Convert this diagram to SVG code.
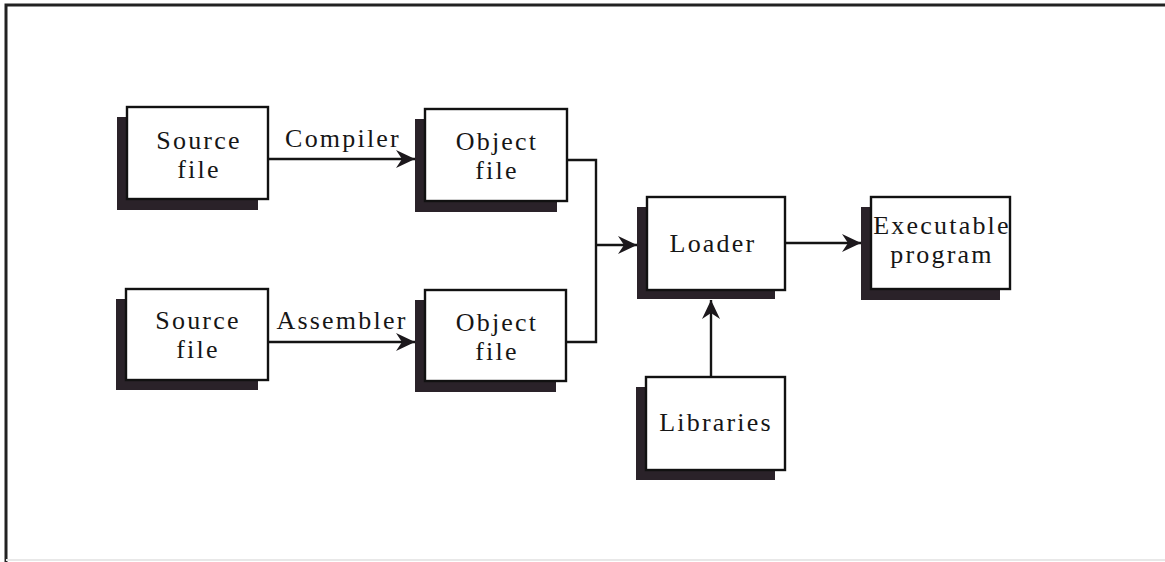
<svg xmlns="http://www.w3.org/2000/svg" width="1165" height="562" viewBox="0 0 1165 562">
  <style>
    .shadow { fill: #2a2229; }
    .box { fill: #ffffff; stroke: #111111; stroke-width: 2.4; }
    .label { font-family: "Liberation Serif", "Times New Roman", serif; font-size: 26px; fill: #161616; text-anchor: middle; letter-spacing: 2.2px; }
    .wire { fill: none; stroke: #141414; stroke-width: 2.4; }
    .frame { fill: none; stroke: #222222; stroke-width: 3; }
  </style>
  <defs>
    <marker id="arrow" markerUnits="userSpaceOnUse" viewBox="-19 -10 20 20" refX="0" refY="0" markerWidth="20" markerHeight="20" orient="auto">
      <path d="M0,0 L-19,-9 L-13,0 L-19,9 Z" fill="#1c181c"/>
    </marker>
  </defs>

  <rect width="1165" height="562" fill="#ffffff"/>

  <!-- page frame -->
  <g id="frame">
    <path class="frame" d="M6,562 V5 H1165"/>
    <line x1="6" y1="560" x2="1165" y2="560" stroke="#e8e8e8" stroke-width="2"/>
  </g>

  <!-- connectors -->
  <g id="connectors">
    <line class="wire" x1="268" y1="159" x2="415" y2="159" marker-end="url(#arrow)"/>
    <line class="wire" x1="268" y1="342" x2="415" y2="342" marker-end="url(#arrow)"/>
    <path class="wire" d="M567,160 H596 V342 H566"/>
    <line class="wire" x1="596" y1="245" x2="637" y2="245" marker-end="url(#arrow)"/>
    <line class="wire" x1="785" y1="243" x2="861" y2="243" marker-end="url(#arrow)"/>
    <line class="wire" x1="711" y1="377" x2="711" y2="300" marker-end="url(#arrow)"/>
    <text class="label" x="343" y="147">Compiler</text>
    <text class="label" x="342" y="329">Assembler</text>
  </g>

  <g id="source1">
    <rect class="shadow" x="117" y="117" width="141" height="93"/>
    <rect class="box" x="127" y="107" width="141" height="92"/>
    <text class="label" x="199" y="149">Source</text>
    <text class="label" x="199" y="178">file</text>
  </g>

  <g id="object1">
    <rect class="shadow" x="415" y="119" width="142" height="93"/>
    <rect class="box" x="425" y="109" width="142" height="92"/>
    <text class="label" x="497" y="150">Object</text>
    <text class="label" x="497" y="179">file</text>
  </g>

  <g id="source2">
    <rect class="shadow" x="116" y="299" width="142" height="91"/>
    <rect class="box" x="126" y="289" width="142" height="91"/>
    <text class="label" x="198" y="329">Source</text>
    <text class="label" x="198" y="358">file</text>
  </g>

  <g id="object2">
    <rect class="shadow" x="415" y="300" width="141" height="92"/>
    <rect class="box" x="425" y="290" width="141" height="91"/>
    <text class="label" x="497" y="331">Object</text>
    <text class="label" x="497" y="360">file</text>
  </g>

  <g id="loader">
    <rect class="shadow" x="637" y="207" width="138" height="92"/>
    <rect class="box" x="647" y="197" width="138" height="93"/>
    <text class="label" x="713" y="252">Loader</text>
  </g>

  <g id="executable">
    <rect class="shadow" x="861" y="207" width="139" height="93"/>
    <rect class="box" x="871" y="197" width="139" height="92"/>
    <text class="label" x="942" y="234">Executable</text>
    <text class="label" x="942" y="263">program</text>
  </g>

  <g id="libraries">
    <rect class="shadow" x="636" y="387" width="139" height="93"/>
    <rect class="box" x="646" y="377" width="139" height="93"/>
    <text class="label" x="716" y="431">Libraries</text>
  </g>
</svg>
